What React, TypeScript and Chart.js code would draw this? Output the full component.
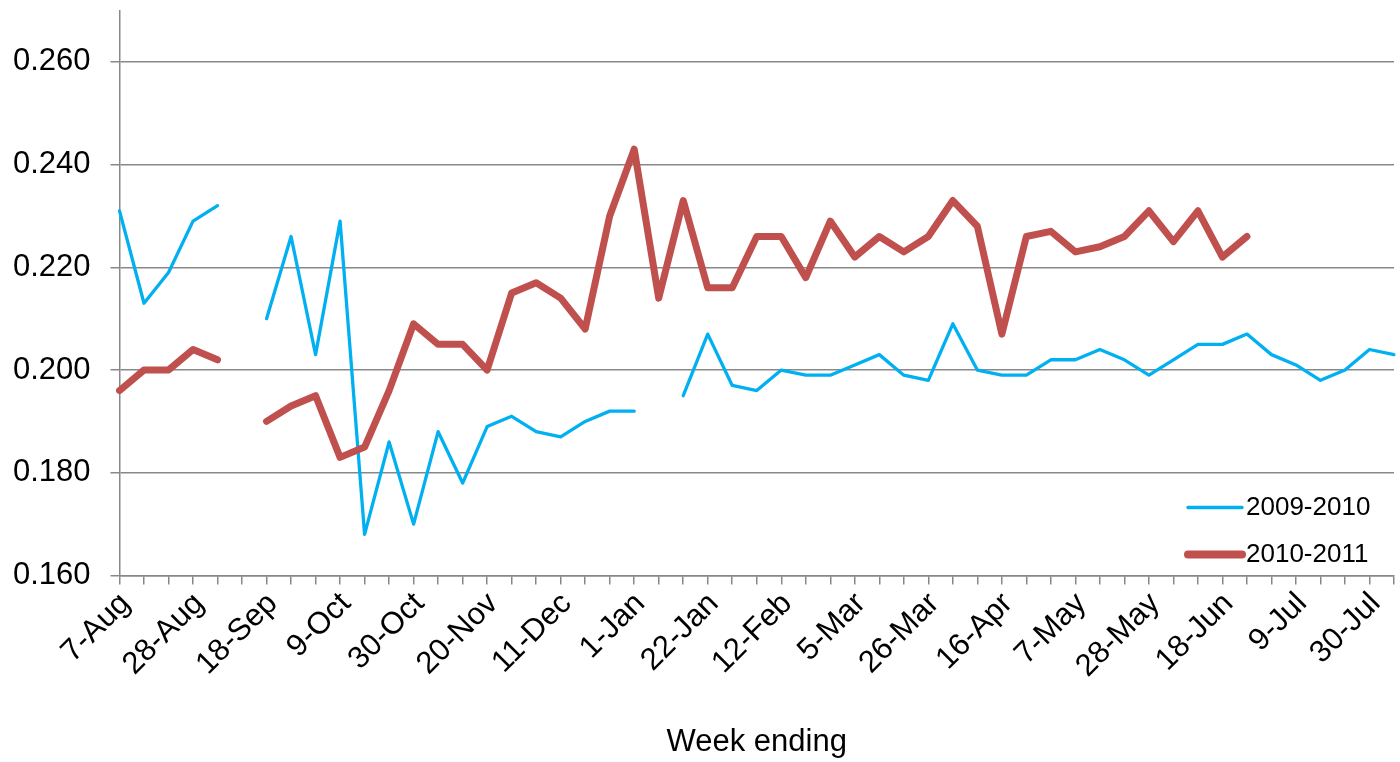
import React, { useEffect, useRef } from 'react';
import { Chart, registerables } from 'chart.js';

Chart.register(...registerables);

const weekLabels = [
  '7-Aug', '14-Aug', '21-Aug', '28-Aug', '4-Sep', '11-Sep', '18-Sep', '25-Sep', '2-Oct', '9-Oct',
  '16-Oct', '23-Oct', '30-Oct', '6-Nov', '13-Nov', '20-Nov', '27-Nov', '4-Dec', '11-Dec', '18-Dec',
  '25-Dec', '1-Jan', '8-Jan', '15-Jan', '22-Jan', '29-Jan', '5-Feb', '12-Feb', '19-Feb', '26-Feb',
  '5-Mar', '12-Mar', '19-Mar', '26-Mar', '2-Apr', '9-Apr', '16-Apr', '23-Apr', '30-Apr', '7-May',
  '14-May', '21-May', '28-May', '4-Jun', '11-Jun', '18-Jun', '25-Jun', '2-Jul', '9-Jul', '16-Jul',
  '23-Jul', '30-Jul', '6-Aug',
];

const series2009_2010: (number | null)[] = [
  0.231, 0.213, 0.219, 0.229, 0.232, null, 0.210, 0.226, 0.203, 0.229,
  0.168, 0.186, 0.170, 0.188, 0.178, 0.189, 0.191, 0.188, 0.187, 0.190,
  0.192, 0.192, null, 0.195, 0.207, 0.197, 0.196, 0.200, 0.199, 0.199,
  0.201, 0.203, 0.199, 0.198, 0.209, 0.200, 0.199, 0.199, 0.202, 0.202,
  0.204, 0.202, 0.199, 0.202, 0.205, 0.205, 0.207, 0.203, 0.201, 0.198,
  0.200, 0.204, 0.203,
];

const series2010_2011: (number | null)[] = [
  0.196, 0.200, 0.200, 0.204, 0.202, null, 0.190, 0.193, 0.195, 0.183,
  0.185, 0.196, 0.209, 0.205, 0.205, 0.200, 0.215, 0.217, 0.214, 0.208,
  0.230, 0.243, 0.214, 0.233, 0.216, 0.216, 0.226, 0.226, 0.218, 0.229,
  0.222, 0.226, 0.223, 0.226, 0.233, 0.228, 0.207, 0.226, 0.227, 0.223,
  0.224, 0.226, 0.231, 0.225, 0.231, 0.222, 0.226, null, null, null,
  null, null, null,
];

const seriesNames = ['2009-2010', '2010-2011'];
const yMin = 0.16;
const yMax = 0.27;
const yStep = 0.02;
const xTitle = 'Week ending';

const FONT = '"Liberation Sans", Arial, Helvetica, sans-serif';
const GRID = '#888888';

const legendPlugin = {
  id: 'insideLegend',
  afterDraw(chart: any) {
    const { ctx, chartArea } = chart;
    const ds = chart.data.datasets;
    ctx.save();
    ctx.font = `26px ${FONT}`;
    ctx.textBaseline = 'middle';
    ctx.textAlign = 'left';
    const lineStart = chartArea.right - 206;
    const lineEnd = chartArea.right - 152;
    const textX = chartArea.right - 148;
    const rowY = [chartArea.bottom - 68, chartArea.bottom - 21];
    ds.forEach((d: any, i: number) => {
      const y = rowY[i];
      ctx.strokeStyle = d.borderColor;
      ctx.lineWidth = d.borderWidth + (i === 1 ? 1 : 0);
      ctx.lineCap = 'round';
      ctx.beginPath();
      ctx.moveTo(lineStart, y);
      ctx.lineTo(lineEnd, y);
      ctx.stroke();
      ctx.fillStyle = '#000';
      ctx.fillText(d.label, textX, y);
    });
    ctx.restore();
  },
};

export default function App() {
  const canvasRef = useRef<HTMLCanvasElement | null>(null);

  useEffect(() => {
    if (!canvasRef.current) return;
    const chart = new Chart(canvasRef.current, {
      type: 'line',
      data: {
        labels: weekLabels,
        datasets: [
          {
            label: seriesNames[0],
            data: series2009_2010,
            borderColor: '#00B0F0',
            backgroundColor: '#00B0F0',
            borderWidth: 3.3,
            pointRadius: 0,
            tension: 0,
            spanGaps: false,
            borderCapStyle: 'round',
            borderJoinStyle: 'round',
            order: 1,
          },
          {
            label: seriesNames[1],
            data: series2010_2011,
            borderColor: '#C0504D',
            backgroundColor: '#C0504D',
            borderWidth: 7,
            pointRadius: 0,
            tension: 0,
            spanGaps: false,
            borderCapStyle: 'round',
            borderJoinStyle: 'round',
            order: 0,
          },
        ],
      },
      options: {
        responsive: false,
        animation: false,
        devicePixelRatio: 1,
        layout: { padding: { top: 10.5, right: 6, bottom: 0, left: 0 } },
        plugins: {
          legend: { display: false },
          tooltip: { enabled: false },
          title: { display: false },
        },
        scales: {
          x: {
            type: 'category',
            offset: false,
            grid: {
              display: true,
              drawOnChartArea: false,
              drawTicks: true,
              tickLength: 9,
              color: GRID,
              lineWidth: 1.5,
            },
            border: { display: true, color: GRID, width: 1.5 },
            ticks: {
              autoSkip: false,
              minRotation: 45,
              maxRotation: 45,
              padding: 1,
              labelOffset: 6,
              color: '#000',
              font: { family: FONT, size: 31 },
              callback: (_v: any, i: number) => (i % 3 === 0 ? weekLabels[i] : ''),
            },
            title: {
              display: true,
              text: xTitle,
              color: '#000',
              font: { family: FONT, size: 31, lineHeight: 1.2 },
              padding: { top: 0, bottom: 1 },
            },
            afterFit: (scale: any) => {
              scale.height = 186.5;
              scale.paddingLeft = 0;
              scale.paddingRight = 0;
            },
          },
          y: {
            type: 'linear',
            min: yMin,
            max: yMax,
            grid: {
              display: true,
              drawOnChartArea: true,
              drawTicks: true,
              tickLength: 9,
              color: GRID,
              lineWidth: 1.5,
            },
            border: { display: true, color: GRID, width: 1.5 },
            ticks: {
              stepSize: yStep,
              padding: 20,
              color: '#000',
              font: { family: FONT, size: 31 },
              callback: (v: any) => Number(v).toFixed(3),
            },
            afterBuildTicks: (scale: any) => {
              scale.ticks = scale.ticks.filter((t: any) => t.value < yMax - 0.005);
            },
            afterFit: (scale: any) => {
              scale.width = 119.5;
              scale.paddingTop = 0;
              scale.paddingBottom = 0;
            },
          },
        },
      },
      plugins: [legendPlugin],
    } as any);
    return () => chart.destroy();
  }, []);

  return (
    <div style={{ position: 'fixed', left: 0, top: 0, width: 1400, height: 762, background: '#fff' }}>
      <canvas ref={canvasRef} width={1400} height={762} style={{ width: 1400, height: 762, display: 'block' }} />
    </div>
  );
}
